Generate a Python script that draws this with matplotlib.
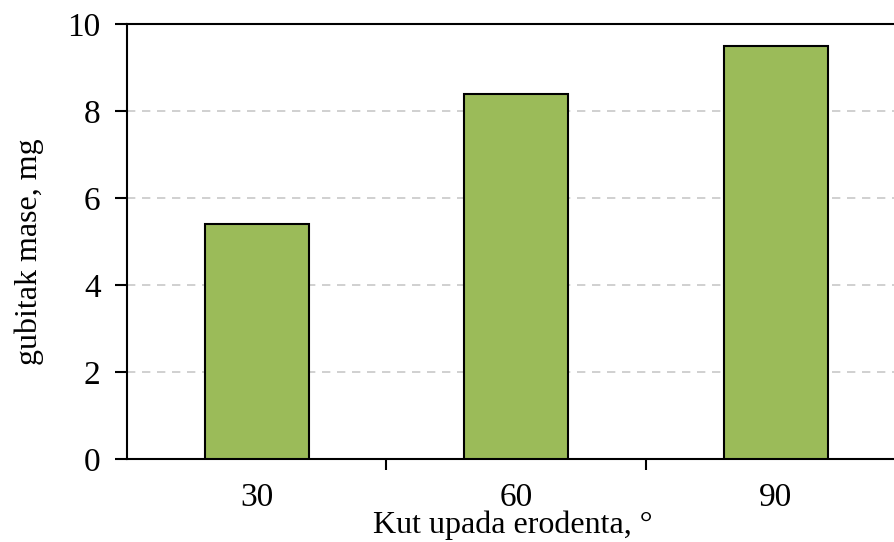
import matplotlib
matplotlib.use("Agg")
import matplotlib.pyplot as plt

categories = ["30", "60", "90"]
values = [5.4, 8.4, 9.5]
yticks = [0, 2, 4, 6, 8, 10]

plt.rcParams['font.family'] = ['Liberation Serif', 'DejaVu Serif']

fig = plt.figure(figsize=(8.95, 5.42), dpi=100)
ax = fig.add_axes([127/895, 83/542, 778.5/895, 435/542])

x = list(range(len(categories)))
ax.bar(x, values, width=0.4, color="#9BBB59", edgecolor="black", linewidth=1.5, zorder=3)

ax.set_xlim(-0.5, 2.5)
ax.set_ylim(0, 10)
ax.set_yticks(yticks)
ax.set_xticks(x)
ax.set_xticklabels(categories)
ax.set_xticks([0.5, 1.5], minor=True)
ax.tick_params(axis='x', which='major', length=0, labelsize=24, pad=17)
ax.tick_params(axis='x', which='minor', direction='out', length=8, width=1.5)
ax.tick_params(axis='y', direction='out', length=9, width=1.5, labelsize=24, pad=10)

ax.grid(axis='y', linestyle=(0, (5, 4)), color='#C8C8C8', linewidth=1.2, zorder=0)
for s in ['left', 'bottom', 'top']:
    ax.spines[s].set_linewidth(1.5)
ax.spines['right'].set_visible(False)

ax.set_xlabel("Kut upada erodenta, °", fontsize=23)
ax.xaxis.set_label_coords(0.496, -0.152)
ax.xaxis.label.set_va('center')
ax.set_ylabel("gubitak mase, mg", fontsize=23)
ax.yaxis.set_label_coords(-0.125, 0.476)
ax.yaxis.label.set_va('center')

fig.savefig("out.png", dpi=100)
